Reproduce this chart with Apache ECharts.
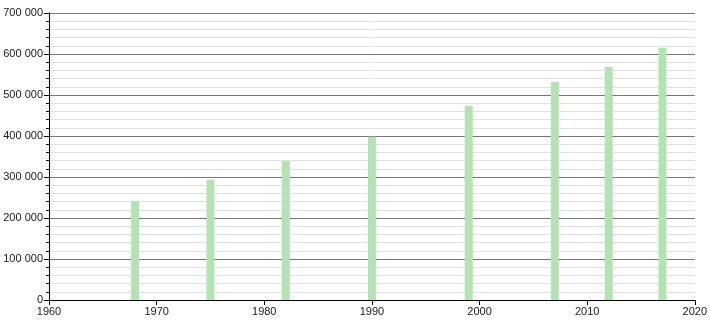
<!DOCTYPE html>
<html><head><meta charset="utf-8">
<script src="https://cdn.jsdelivr.net/npm/echarts@6/dist/echarts.min.js"></script>
<style>html,body{margin:0;padding:0;background:#fff}#c{width:710px;height:320px}</style>
</head><body><div id="c"></div>
<script>
const years = [1968, 1975, 1982, 1990, 1999, 2007, 2012, 2017];
const population = [241000, 293000, 339000, 398000, 473000, 532000, 568000, 615000];
const xTicks = [1960, 1970, 1980, 1990, 2000, 2010, 2020];

const chart = echarts.init(document.getElementById('c'), null, {renderer: 'canvas'});
const fmt = v => String(v).replace(/\B(?=(\d{3})+(?!\d))/g, ' ');
chart.setOption({
  animation: false,
  grid: {left: 49, right: 11, top: 13, bottom: 20},
  xAxis: {
    type: 'value', min: xTicks[0], max: xTicks[xTicks.length - 1], interval: 10,
    axisLine: {onZero: false, lineStyle: {color: '#000', width: 1}},
    axisTick: {show: true, length: 5, lineStyle: {color: '#000'}},
    axisLabel: {color: '#222', fontSize: 11, fontFamily: 'Liberation Sans, Arial, sans-serif', margin: 6, formatter: v => String(v)},
    splitLine: {show: false}
  },
  yAxis: {
    type: 'value', min: 0, max: 700000, interval: 100000,
    axisLine: {show: true, lineStyle: {color: '#000', width: 1}},
    axisTick: {show: true, length: 5, lineStyle: {color: '#000'}},
    minorTick: {show: true, splitNumber: 5, length: 3, lineStyle: {color: '#000'}},
    axisLabel: {color: '#222', fontSize: 11, fontFamily: 'Liberation Sans, Arial, sans-serif', margin: 6, formatter: fmt},
    splitLine: {show: true, lineStyle: {color: '#777', width: 1}},
    minorSplitLine: {show: true, lineStyle: {color: '#e2e2e2', width: 1}}
  },
  series: [{
    type: 'bar',
    barWidth: 8,
    itemStyle: {color: '#b3e3b3'},
    data: years.map((y, i) => [y, population[i]])
  }]
});
</script></body></html>
